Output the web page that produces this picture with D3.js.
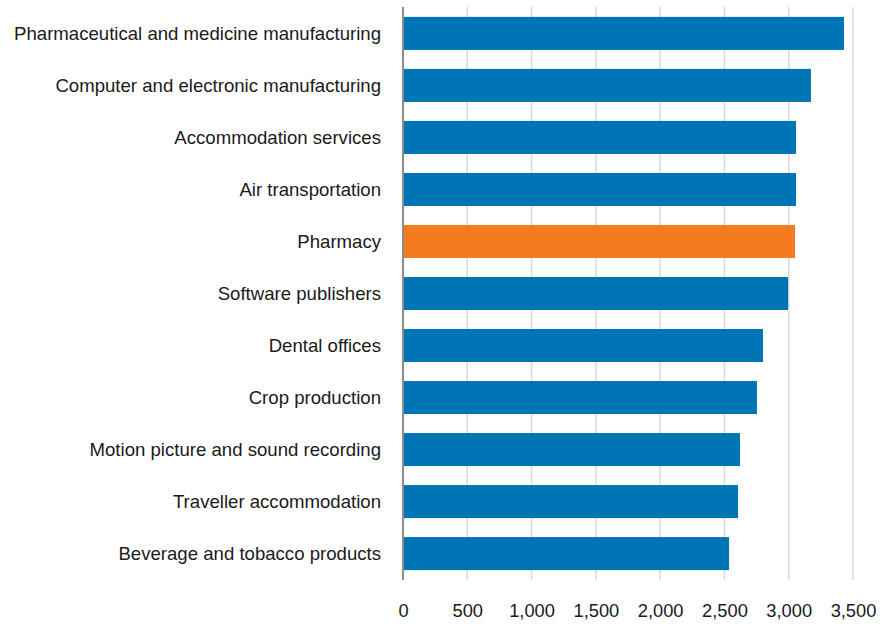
<!DOCTYPE html>
<meta charset="utf-8">
<title>Industries</title>
<script src="https://d3js.org/d3.v7.min.js"></script>
<style>
  body { margin: 0; background: #fff; }
  text { font-family: "Liberation Sans", Arial, sans-serif; fill: #1a1a1a; }
</style>
<body>
<div id="chart"></div>
<script>
// categories, top to bottom
var industries = [
  "Pharmaceutical and medicine manufacturing",
  "Computer and electronic manufacturing",
  "Accommodation services",
  "Air transportation",
  "Pharmacy",
  "Software publishers",
  "Dental offices",
  "Crop production",
  "Motion picture and sound recording",
  "Traveller accommodation",
  "Beverage and tobacco products"
];
var values = [3430, 3173, 3057, 3057, 3049, 2995, 2800, 2753, 2621, 2606, 2536];
var highlight = ["Pharmacy"];
var xTicks = [0, 500, 1000, 1500, 2000, 2500, 3000, 3500];

var width = 887, height = 626;
var margin = {top: 7, right: 34, bottom: 46, left: 403};

var data = industries.map(function(d, i) { return {name: d, value: values[i]}; });

var svg = d3.select("#chart").append("svg")
    .attr("width", width)
    .attr("height", height);

var x = d3.scaleLinear()
    .domain([0, 3500])
    .range([margin.left, width - margin.right]);

var y = d3.scaleBand()
    .domain(industries)
    .range([margin.top, height - margin.bottom])
    .paddingInner(0.365)
    .paddingOuter(0.19);

// gridlines
svg.append("g")
    .selectAll("line")
    .data(xTicks.slice(1))
    .enter().append("line")
    .attr("x1", function(d) { return x(d); })
    .attr("x2", function(d) { return x(d); })
    .attr("y1", margin.top)
    .attr("y2", height - margin.bottom)
    .attr("stroke", "#d9d9d9")
    .attr("stroke-width", 1.5);

// bars
svg.append("g")
    .selectAll("rect")
    .data(data)
    .enter().append("rect")
    .attr("x", x(0))
    .attr("y", function(d) { return y(d.name); })
    .attr("width", function(d) { return x(d.value) - x(0); })
    .attr("height", y.bandwidth())
    .attr("fill", function(d) { return highlight.indexOf(d.name) >= 0 ? "#f47b20" : "#0075b6"; });

// y axis
var yAxis = svg.append("g")
    .attr("transform", "translate(" + x(0) + ",0)")
    .call(d3.axisLeft(y).tickSize(0).tickPadding(22));
yAxis.select(".domain").remove();
yAxis.selectAll("text").style("font-size", "18.6px").attr("dy", "0.36em").attr("fill", "#1a1a1a");

svg.append("line")
    .attr("x1", x(0)).attr("x2", x(0))
    .attr("y1", margin.top).attr("y2", height - margin.bottom)
    .attr("stroke", "#8c8c8c")
    .attr("stroke-width", 2);

// x axis
var xAxis = svg.append("g")
    .attr("transform", "translate(0," + (height - margin.bottom) + ")")
    .call(d3.axisBottom(x).tickValues(xTicks).tickSize(0).tickPadding(24)
      .tickFormat(d3.format(",")));
xAxis.select(".domain").remove();
xAxis.selectAll("text").style("font-size", "18.3px").attr("fill", "#1a1a1a");
</script>
</body>
